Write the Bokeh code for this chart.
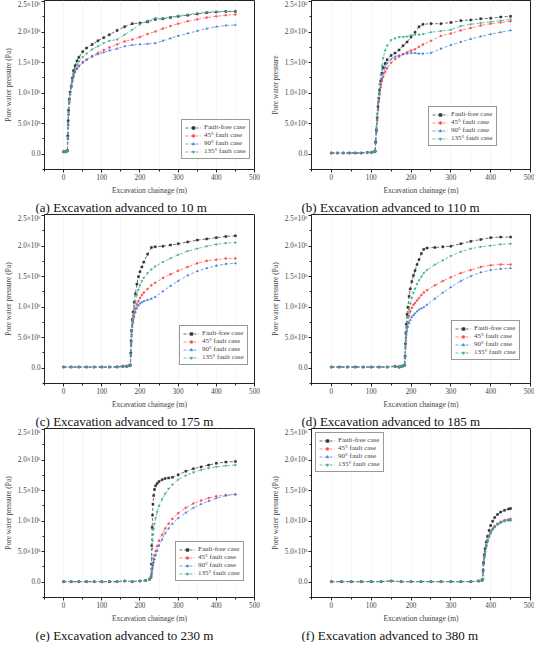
from bokeh.plotting import figure
from bokeh.models import FixedTicker, Legend, Title
from bokeh.layouts import gridplot
from bokeh.embed import file_html
from bokeh.resources import INLINE

# ---------------- data (pressure in units of 10^6 Pa) ----------------
series_names = ["Fault-free case", "45\u00b0 fault case", "90\u00b0 fault case", "135\u00b0 fault case"]

# (a) Excavation advanced to 10 m
xa = [0, 4, 8, 10, 11, 12, 13, 15, 17, 20, 23, 26, 30, 35, 40, 50, 60, 75, 90, 105, 120, 140, 160, 180, 200, 220, 240, 260, 280, 300, 325, 350, 375, 400, 425, 450]
a_free = [.04, .04, .05, .06, .30, .55, .72, .90, 1.02, 1.12, 1.25, 1.37, 1.45, 1.53, 1.59, 1.68, 1.74, 1.80, 1.86, 1.91, 1.96, 2.03, 2.09, 2.14, 2.15, 2.17, 2.21, 2.22, 2.24, 2.26, 2.28, 2.30, 2.32, 2.33, 2.34, 2.34]
a_45 = [.04, .04, .05, .06, .25, .48, .65, .85, .98, 1.10, 1.20, 1.28, 1.35, 1.41, 1.45, 1.51, 1.55, 1.61, 1.66, 1.71, 1.75, 1.80, 1.85, 1.88, 1.92, 1.97, 2.01, 2.06, 2.10, 2.14, 2.18, 2.21, 2.24, 2.26, 2.28, 2.29]
a_90 = [.04, .04, .05, .06, .25, .48, .65, .85, .98, 1.10, 1.20, 1.28, 1.35, 1.40, 1.44, 1.50, 1.55, 1.60, 1.64, 1.67, 1.70, 1.73, 1.77, 1.79, 1.80, 1.81, 1.82, 1.86, 1.90, 1.94, 1.98, 2.02, 2.06, 2.09, 2.11, 2.12]
a_135 = [.04, .04, .05, .06, .28, .52, .68, .88, 1.00, 1.12, 1.23, 1.32, 1.40, 1.47, 1.52, 1.59, 1.65, 1.72, 1.77, 1.82, 1.86, 1.88, 1.96, 2.04, 2.13, 2.19, 2.23, 2.23, 2.25, 2.27, 2.29, 2.31, 2.33, 2.34, 2.34, 2.34]

# (b) Excavation advanced to 110 m
xb = [0, 15, 30, 45, 60, 75, 90, 100, 108, 110, 111, 113, 115, 117, 119, 121, 124, 127, 130, 135, 140, 150, 160, 170, 180, 190, 200, 210, 220, 230, 250, 275, 300, 325, 350, 375, 400, 425, 450]
b_free = [.02, .02, .02, .02, .02, .02, .03, .03, .04, .05, .20, .40, .60, .78, .92, 1.05, 1.20, 1.33, 1.42, 1.49, 1.55, 1.62, 1.66, 1.71, 1.78, 1.84, 1.92, 2.00, 2.09, 2.13, 2.14, 2.14, 2.16, 2.19, 2.20, 2.22, 2.23, 2.25, 2.26]
b_45 = [.02, .02, .02, .02, .02, .02, .03, .03, .04, .05, .18, .36, .55, .72, .86, .98, 1.10, 1.20, 1.27, 1.35, 1.41, 1.50, 1.56, 1.60, 1.64, 1.67, 1.70, 1.72, 1.76, 1.80, 1.86, 1.94, 1.98, 2.03, 2.07, 2.11, 2.14, 2.16, 2.18]
b_90 = [.02, .02, .02, .02, .02, .02, .03, .03, .04, .05, .18, .38, .57, .75, .89, 1.01, 1.14, 1.24, 1.33, 1.42, 1.49, 1.56, 1.60, 1.62, 1.64, 1.65, 1.66, 1.66, 1.65, 1.65, 1.66, 1.73, 1.79, 1.84, 1.89, 1.93, 1.97, 2.00, 2.03]
b_135 = [.02, .02, .02, .02, .02, .02, .03, .03, .04, .05, .22, .45, .66, .85, 1.00, 1.15, 1.30, 1.45, 1.58, 1.70, 1.78, 1.87, 1.90, 1.92, 1.92, 1.93, 1.95, 1.96, 1.96, 1.97, 2.00, 2.02, 2.04, 2.10, 2.13, 2.15, 2.17, 2.19, 2.21]

# (c) Excavation advanced to 175 m
xc = [0, 20, 40, 60, 80, 100, 120, 140, 155, 165, 172, 175, 176, 177, 178, 180, 182, 185, 188, 192, 196, 200, 205, 210, 220, 230, 240, 260, 280, 300, 325, 350, 375, 400, 425, 450]
c_free = [.02, .02, .02, .02, .02, .02, .02, .02, .03, .03, .04, .05, .25, .45, .62, .80, .92, 1.08, 1.22, 1.38, 1.50, 1.58, 1.66, 1.74, 1.87, 1.98, 1.99, 2.00, 2.02, 2.04, 2.07, 2.10, 2.12, 2.14, 2.16, 2.17]
c_45 = [.02, .02, .02, .02, .02, .02, .02, .03, .04, .04, .05, .06, .22, .40, .55, .72, .80, .90, .98, 1.05, 1.10, 1.15, 1.20, 1.24, 1.30, 1.36, 1.40, 1.48, 1.54, 1.60, 1.66, 1.72, 1.76, 1.78, 1.80, 1.80]
c_90 = [.02, .02, .02, .02, .02, .02, .02, .02, .03, .03, .04, .05, .20, .38, .52, .68, .75, .84, .92, .98, 1.03, 1.06, 1.08, 1.10, 1.12, 1.14, 1.17, 1.26, 1.35, 1.43, 1.52, 1.59, 1.64, 1.68, 1.71, 1.72]
c_135 = [.02, .02, .02, .02, .02, .02, .02, .02, .03, .03, .04, .05, .24, .42, .58, .76, .85, .98, 1.08, 1.20, 1.29, 1.36, 1.43, 1.48, 1.56, 1.62, 1.67, 1.74, 1.80, 1.86, 1.92, 1.96, 2.00, 2.03, 2.05, 2.06]

# (d) Excavation advanced to 185 m
xd = [0, 20, 40, 60, 80, 100, 120, 140, 160, 170, 175, 180, 184, 185, 186, 187, 188, 190, 192, 195, 198, 202, 206, 210, 215, 220, 226, 232, 240, 260, 280, 300, 325, 350, 375, 400, 425, 450]
d_free = [.02, .02, .02, .02, .02, .02, .02, .02, .03, .02, .03, .04, .05, .20, .40, .58, .72, .88, 1.00, 1.18, 1.30, 1.42, 1.52, 1.60, 1.70, 1.78, 1.88, 1.95, 1.97, 1.98, 1.99, 2.00, 2.04, 2.08, 2.11, 2.14, 2.15, 2.15]
d_45 = [.02, .02, .02, .02, .02, .02, .02, .02, .04, .03, .03, .04, .05, .18, .35, .50, .60, .68, .76, .86, .93, .99, 1.04, 1.07, 1.11, 1.15, 1.20, 1.24, 1.28, 1.36, 1.43, 1.49, 1.56, 1.61, 1.66, 1.69, 1.70, 1.70]
d_90 = [.02, .02, .02, .02, .02, .02, .02, .02, .03, .01, .02, .03, .05, .16, .32, .46, .55, .62, .68, .74, .79, .84, .87, .90, .93, .96, .98, 1.00, 1.04, 1.14, 1.24, 1.33, 1.43, 1.51, 1.57, 1.61, 1.63, 1.64]
d_135 = [.02, .02, .02, .02, .02, .02, .02, .02, .03, .02, .03, .04, .05, .19, .38, .55, .66, .76, .84, .96, 1.06, 1.15, 1.24, 1.30, 1.38, 1.44, 1.50, 1.56, 1.61, 1.70, 1.77, 1.84, 1.91, 1.96, 1.99, 2.01, 2.03, 2.04]

# (e) Excavation advanced to 230 m
xe = [0, 20, 40, 60, 80, 100, 120, 140, 160, 180, 200, 215, 225, 229, 230, 231, 232, 233, 234, 236, 238, 241, 245, 250, 258, 266, 275, 285, 300, 320, 340, 360, 380, 400, 425, 450]
e_free = [.01, .01, .01, .01, .01, .01, .01, .01, .02, .01, .02, .03, .05, .08, .30, .60, .90, 1.10, 1.28, 1.42, 1.52, 1.58, 1.62, 1.65, 1.68, 1.70, 1.71, 1.72, 1.76, 1.82, 1.86, 1.89, 1.92, 1.95, 1.97, 1.98]
e_45 = [.01, .01, .01, .01, .01, .01, .01, .01, .02, .01, .02, .03, .05, .08, .12, .16, .22, .27, .32, .38, .44, .51, .59, .68, .78, .88, .96, 1.04, 1.13, 1.22, 1.29, 1.34, 1.38, 1.41, 1.43, 1.44]
e_90 = [.01, .01, .01, .01, .01, .01, .01, .01, .02, .01, .02, .03, .05, .08, .11, .15, .20, .24, .28, .33, .38, .44, .51, .60, .70, .80, .88, .96, 1.05, 1.14, 1.22, 1.28, 1.33, 1.38, 1.42, 1.44]
e_135 = [.01, .01, .01, .01, .01, .01, .01, .01, .02, .01, .02, .03, .05, .08, .22, .40, .55, .68, .78, .88, .96, 1.05, 1.15, 1.25, 1.36, 1.45, 1.53, 1.60, 1.68, 1.75, 1.80, 1.84, 1.87, 1.89, 1.91, 1.92]

# (f) Excavation advanced to 380 m
xf = [0, 25, 50, 75, 100, 125, 150, 175, 200, 225, 250, 275, 300, 325, 350, 370, 378, 380, 381, 382, 384, 386, 389, 392, 396, 400, 405, 410, 417, 425, 435, 445, 450]
f_free = [.01, .01, .01, .01, .01, .01, .02, .01, .01, .01, .01, .01, .01, .01, .01, .02, .03, .05, .20, .32, .45, .55, .66, .75, .85, .93, 1.00, 1.06, 1.11, 1.15, 1.18, 1.20, 1.21]
f_45 = [.01, .01, .01, .01, .01, .01, .02, .01, .01, .01, .01, .01, .01, .01, .01, .02, .03, .05, .18, .30, .42, .51, .60, .68, .76, .82, .88, .92, .96, .99, 1.02, 1.03, 1.04]
f_90 = [.01, .01, .01, .01, .01, .01, .02, .01, .01, .01, .01, .01, .01, .01, .01, .02, .03, .05, .17, .29, .41, .50, .59, .67, .75, .81, .87, .91, .95, .98, 1.01, 1.02, 1.02]
f_135 = [.01, .01, .01, .01, .01, .01, .02, .01, .01, .01, .01, .01, .01, .01, .01, .02, .03, .05, .17, .29, .40, .49, .58, .66, .74, .80, .86, .90, .94, .97, 1.00, 1.01, 1.01]

x_ticks = [0, 100, 200, 300, 400, 500]
x_minor_ticks = [-50, 50, 150, 250, 350, 450]
y_ticks = [0.0, 0.5, 1.0, 1.5, 2.0, 2.5]
y_minor_ticks = [-0.25, 0.25, 0.75, 1.25, 1.75, 2.25]
y_tick_labels = ["0.0", "5.0\u00d710\u2075", "1.0\u00d710\u2076", "1.5\u00d710\u2076", "2.0\u00d710\u2076", "2.5\u00d710\u2076"]

captions = ["(a) Excavation advanced to 10 m", "(b) Excavation advanced to 110 m",
            "(c) Excavation advanced to 175 m", "(d) Excavation advanced to 185 m",
            "(e) Excavation advanced to 230 m", "(f) Excavation advanced to 380 m"]
y_labels = ["Pore water pressure (Pa)", "Pore water pressure", "Pore water pressure (Pa)",
            "Pore water pressure (Pa)", "Pore water pressure (Pa)", "Pore water pressure (Pa)"]

# ---------------- styling ----------------
colors = ["#303030", "#ff4d4d", "#3d7be0", "#35a88e"]
markers = ["square", "circle", "triangle", "inverted_triangle"]
FONT = "Liberation Serif"

panels = [
    (xa, [a_free, a_45, a_90, a_135]),
    (xb, [b_free, b_45, b_90, b_135]),
    (xc, [c_free, c_45, c_90, c_135]),
    (xd, [d_free, d_45, d_90, d_135]),
    (xe, [e_free, e_45, e_90, e_135]),
    (xf, [f_free, f_45, f_90, f_135]),
]
legend_locs = [(137, 10), (117, 23), (135, 18), (140, 23), (131, 16), "top_left"]

W, H = 267, 214
figs = []
for i, (xs, ys) in enumerate(panels):
    left_col = (i % 2 == 0)
    p = figure(width=W, height=H, x_range=(-50, 500), y_range=(-0.25, 2.52),
               output_backend="svg", toolbar_location=None,
               min_border_left=34 if left_col else 43,
               min_border_right=13 if left_col else 4,
               min_border_top=0, min_border_bottom=0,
               background_fill_color="white", border_fill_color="white")
    p.outline_line_color = "#222222"
    p.outline_line_width = 1
    p.ygrid.visible = False
    p.xgrid.grid_line_color = "#eeeeee"
    p.xgrid.grid_line_width = 0.6
    p.xgrid.minor_grid_line_color = "#eeeeee"
    p.xgrid.minor_grid_line_width = 0.6

    p.xaxis.ticker = FixedTicker(ticks=x_ticks, minor_ticks=x_minor_ticks)
    p.yaxis.ticker = FixedTicker(ticks=y_ticks, minor_ticks=y_minor_ticks)
    p.yaxis.major_label_overrides = {t: l for t, l in zip(y_ticks, y_tick_labels)}
    p.xaxis.axis_label = "Excavation chainage (m)"
    p.yaxis.axis_label = y_labels[i]
    for ax in (p.xaxis, p.yaxis):
        ax.axis_label_text_font = FONT
        ax.axis_label_text_font_style = "normal"
        ax.axis_label_text_font_size = "7.5px"
        ax.major_label_text_font = FONT
        ax.major_label_text_font_size = "7.2px"
        ax.axis_line_color = "#222222"
        ax.major_tick_line_color = "#222222"
        ax.minor_tick_line_color = "#222222"
        ax.major_tick_out = 3
        ax.major_tick_in = 0
        ax.minor_tick_out = 2
        ax.minor_tick_in = 0
        ax.major_label_standoff = 1
        ax.axis_label_standoff = 2
    p.xaxis.axis_label_standoff = 3

    items = []
    for k in range(4):
        r1 = p.line(xs, ys[k], line_color=colors[k], line_width=0.7, line_dash="3 2")
        r2 = p.scatter(xs, ys[k], marker=markers[k], size=2.0,
                       fill_color=colors[k], line_color=colors[k], line_width=0.5)
        items.append((series_names[k], [r1, r2]))
    leg = Legend(items=items, location=legend_locs[i])
    leg.label_text_font = FONT
    leg.label_text_font_size = "7px"
    leg.glyph_width = 16
    leg.glyph_height = 7
    leg.label_height = 7
    leg.spacing = 0
    leg.padding = 3
    leg.margin = 4
    leg.label_standoff = 3
    leg.border_line_color = "#333333"
    leg.border_line_width = 0.8
    leg.background_fill_alpha = 1.0
    p.add_layout(leg, "center")

    cap = Title(text=captions[i], align="left", offset=-9 if left_col else -10,
                text_font=FONT, text_font_size="13px", text_font_style="normal",
                text_color="#111111", standoff=0)
    p.add_layout(cap, "below")
    figs.append(p)

grid = gridplot([[figs[0], figs[1]], [figs[2], figs[3]], [figs[4], figs[5]]],
                toolbar_location=None)

open("out.html", "w").write(file_html(grid, INLINE))
